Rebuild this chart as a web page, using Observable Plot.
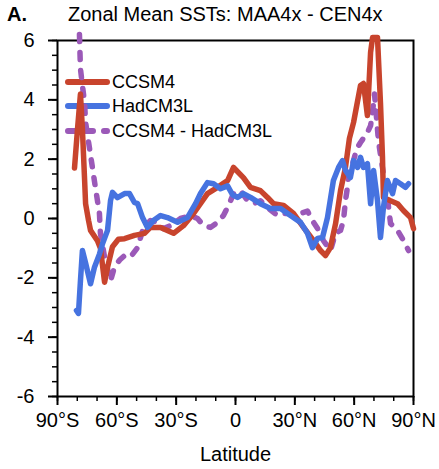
<!DOCTYPE html>
<html><head><meta charset="utf-8">
<script src="https://cdn.jsdelivr.net/npm/d3@7"></script>
<script src="https://cdn.jsdelivr.net/npm/@observablehq/plot@0.6"></script>
<style>
body{margin:0;background:#fff;font-family:"Liberation Sans",Arial,Helvetica,sans-serif;}
#wrap{position:relative;width:439px;height:469px;overflow:hidden;}
#title{position:absolute;top:0;left:0;width:439px;height:28px;font-size:20px;line-height:20px;color:#000;}
#title .a{position:absolute;left:7px;top:4px;font-weight:bold;}
#title .t{position:absolute;left:68px;top:4px;white-space:nowrap;}
#chart{position:absolute;top:28px;left:0;}
</style></head><body>
<div id="wrap">
<div id="title"><span class="a">A.</span><span class="t">Zonal Mean SSTs: MAA4x - CEN4x</span></div>
<div id="chart"></div>
</div>
<script>
// Data
const seriesNames = ["CCSM4", "HadCM3L", "CCSM4 - HadCM3L"];
const seriesColors = ["#c8442d", "#4673e0", "#9b59b8"];

const latCCSM4 = [-81.4,-79.9,-78.4,-77.4,-76.3,-75.8,-74.3,-73.3,-69.8,-68.3,-66.2,-64.7,-62.2,-59.2,-56.1,-51.1,-46.0,-43.0,-37.9,-31.3,-26.3,-21.2,-14.2,-9.1,-4.0,-1.0,4.0,7.6,12.6,16.2,19.2,24.3,29.3,34.4,39.4,43.0,45.5,48.0,50.6,53.1,55.6,57.6,59.7,63.2,64.7,66.7,68.3,69.3,71.8,73.3,74.3,74.8,78.4,81.9,84.9,88.5,90.0];
const valCCSM4 = [1.7,3.0,4.2,3.0,1.3,0.5,-0.07,-0.4,-0.75,-1.0,-2.15,-1.65,-0.95,-0.7,-0.68,-0.57,-0.5,-0.3,-0.3,-0.5,-0.24,0.17,0.84,1.05,1.28,1.72,1.38,1.05,0.94,0.71,0.5,0.44,0.17,-0.3,-0.74,-1.08,-1.25,-0.98,-0.17,0.94,1.72,2.7,3.24,4.48,4.55,3.47,5.6,6.1,6.1,3.9,2.1,0.71,0.6,0.5,0.27,0.03,-0.34];

const latHad = [-80.4,-79.4,-78.4,-77.4,-75.8,-73.3,-71.3,-68.8,-67.2,-64.7,-63.2,-62.2,-59.7,-56.1,-53.6,-51.1,-49.5,-47.0,-44.5,-41.5,-37.9,-34.4,-29.3,-24.3,-20.2,-17.7,-14.2,-11.1,-7.6,-4.0,-1.5,1.0,4.0,7.6,12.6,17.7,22.8,27.8,32.9,36.4,38.9,41.5,44.0,46.5,49.5,52.1,54.1,55.6,58.1,59.7,61.7,63.2,64.7,66.7,68.3,69.8,71.8,73.3,74.8,76.8,79.4,80.9,83.4,85.9,87.5];
const valHad = [-3.1,-3.2,-2.1,-1.08,-1.5,-2.2,-1.64,-1.2,-0.84,-0.4,0.6,0.88,0.7,0.84,0.84,0.54,0.5,0.03,-0.3,-0.07,0.1,0.03,-0.13,0.03,0.5,0.84,1.21,1.17,1.0,1.1,0.8,0.71,0.84,0.71,0.5,0.34,0.34,0.1,-0.13,-0.5,-0.98,-0.67,-0.64,0.03,1.28,1.72,1.95,1.62,1.38,1.95,1.72,2.06,1.72,1.85,0.5,1.62,0.6,-0.64,0.37,1.28,0.84,1.28,1.17,1.05,1.17];

const latDiff = [-78.9,-78.4,-77.4,-76.3,-75.8,-73.8,-72.3,-71.3,-69.8,-68.8,-68.3,-66.2,-63.2,-61.2,-58.6,-56.1,-53.1,-49.5,-46.5,-43.0,-39.4,-36.4,-32.9,-27.8,-22.8,-19.2,-16.2,-12.6,-9.1,-6.1,-3.5,-1.0,2.5,6.1,9.1,12.6,16.2,21.2,24.3,29.3,32.9,36.4,38.9,41.5,44.5,48.0,50.6,53.1,54.6,55.6,56.6,57.1,59.2,60.7,61.7,63.2,66.7,68.3,69.3,70.3,72.3,74.8,76.8,78.4,81.9,84.9,87.5];
const valDiff = [6.2,5.05,4.48,3.9,3.24,2.36,1.7,1.25,0.6,0.17,-0.5,-1.3,-2.1,-1.64,-1.4,-1.25,-1.3,-0.98,-0.3,-0.07,-0.13,-0.34,-0.24,0.0,0.1,0.0,-0.24,-0.3,-0.13,0.1,0.44,0.84,0.94,0.6,0.5,0.6,0.37,0.1,0.17,0.17,0.17,0.25,-0.07,-0.34,-0.75,-1.08,-0.5,-0.4,-0.07,0.6,1.05,1.5,1.85,2.2,2.4,2.56,2.9,3.13,3.6,4.2,2.6,1.5,0.7,-0.17,-0.4,-0.74,-1.08];

const yMajorTicks = [-6,-4,-2,0,2,4,6];
const xMajorTicks = [-90,-60,-30,0,30,60,90];

const toRows = (lats, vals) => lats.map((lat, i) => ({lat, val: vals[i]}));
const ccsm = toRows(latCCSM4, valCCSM4);
const had = toRows(latHad, valHad);
const diff = toRows(latDiff, valDiff);

const fmtLat = d => d === 0 ? "0" : d < 0 ? `${-d}°S` : `${d}°N`;
const LW = 5.5;
const DASH = "7,11";

const chart = Plot.plot({
  width: 439,
  height: 441,
  marginTop: 12,
  marginLeft: 57,
  marginRight: 26,
  marginBottom: 73,
  style: {fontFamily: '"Liberation Sans", Arial, Helvetica, sans-serif', fontSize: "20px", background: "#fff", color: "#000"},
  x: {domain: [-90, 90]},
  y: {domain: [-6, 6]},
  marks: [
    Plot.axisY({ticks: d3.range(-6, 6.001, 0.5), tickSize: 5, strokeWidth: 1.5, tickFormat: () => "", label: null}),
    Plot.axisY({ticks: yMajorTicks, tickSize: 9, strokeWidth: 2, tickPadding: 14, tickFormat: d => String(d), label: null, fontSize: 20}),
    Plot.axisX({ticks: d3.range(-90, 90.001, 10), tickSize: 5, strokeWidth: 1.5, tickFormat: () => "", label: null}),
    Plot.axisX({ticks: xMajorTicks, tickSize: 9, strokeWidth: 2, tickPadding: 7, tickFormat: fmtLat, label: null, fontSize: 20}),
    Plot.frame({stroke: "#000", strokeWidth: 2}),
    Plot.line(diff, {x: "lat", y: "val", stroke: seriesColors[2], strokeWidth: LW, strokeDasharray: DASH, strokeLinecap: "round", strokeLinejoin: "round"}),
    Plot.line(ccsm, {x: "lat", y: "val", stroke: seriesColors[0], strokeWidth: LW, strokeLinecap: "round", strokeLinejoin: "round"}),
    Plot.line(had, {x: "lat", y: "val", stroke: seriesColors[1], strokeWidth: LW, strokeLinecap: "round", strokeLinejoin: "round"}),
    Plot.text(["Latitude"], {frameAnchor: "bottom", dy: 64, fontSize: 20, fill: "#000"})
  ]
});
document.getElementById("chart").appendChild(chart);

// Legend inside the plot, beneath the data lines
const svg = d3.select(chart);
const firstLine = chart.querySelector('g[aria-label="line"]');
const leg = svg.insert("g", () => firstLine).attr("text-anchor", "start");
const legY = [54, 78, 103];
seriesNames.forEach((name, i) => {
  leg.append("line")
    .attr("x1", 68).attr("x2", 107).attr("y1", legY[i]).attr("y2", legY[i])
    .attr("stroke", seriesColors[i]).attr("stroke-width", 6)
    .attr("stroke-linecap", "round")
    .attr("stroke-dasharray", i === 2 ? DASH : null);
  leg.append("text")
    .attr("x", 112).attr("y", legY[i]).attr("dy", "0.35em")
    .attr("text-anchor", "start")
    .attr("font-size", 18).attr("fill", "#000")
    .text(name);
});
</script>
</body></html>
